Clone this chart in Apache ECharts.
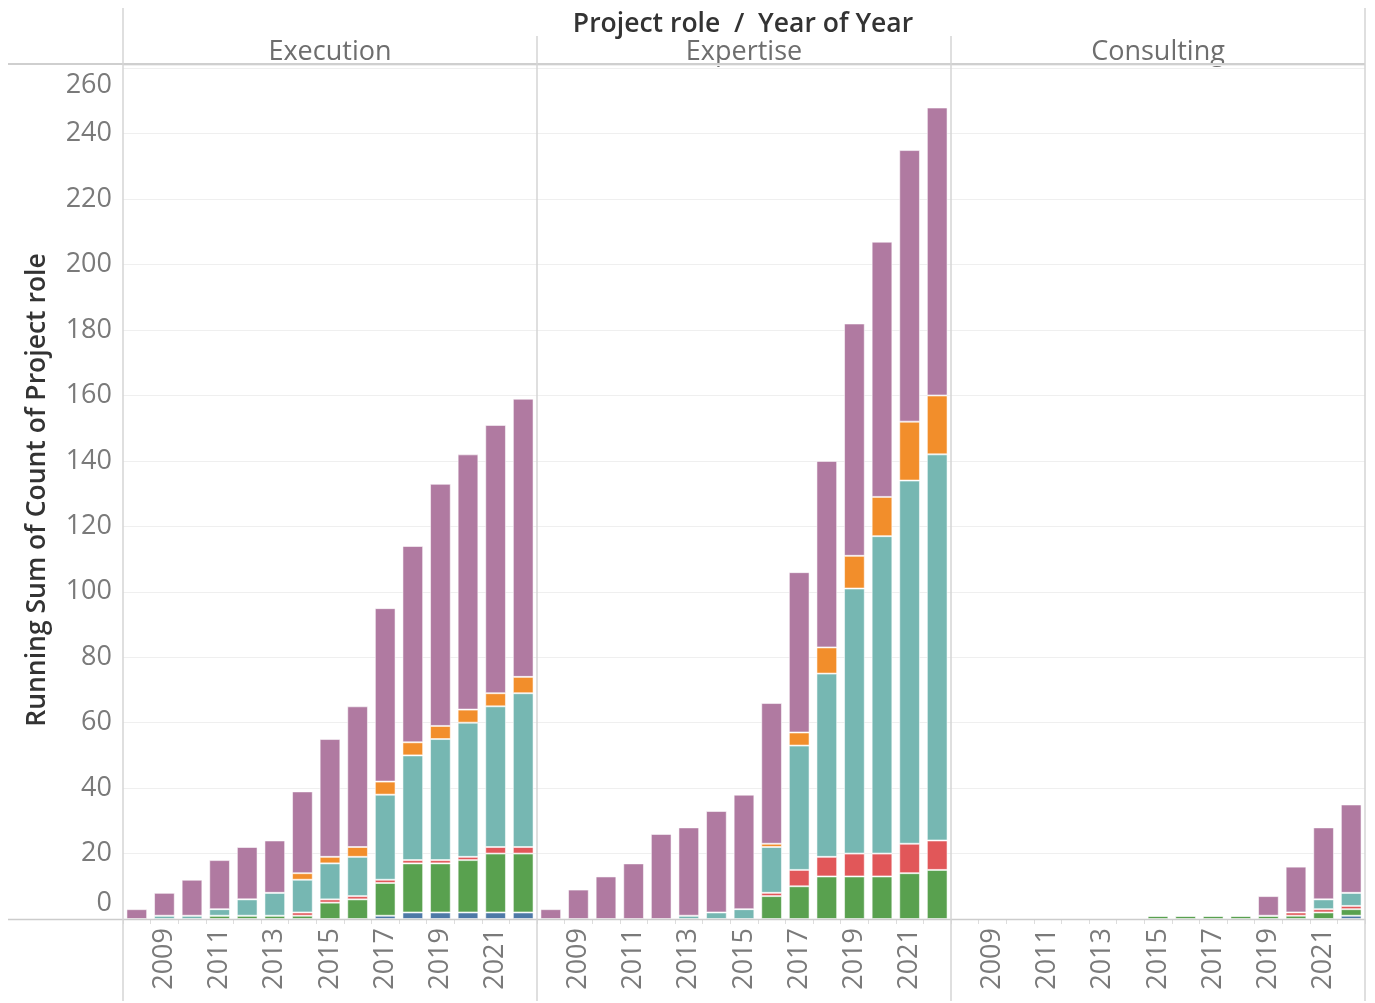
<!DOCTYPE html>
<html>
<head>
<meta charset="utf-8">
<script src="https://cdn.jsdelivr.net/npm/echarts@6/dist/echarts.min.js"></script>
<style>
html,body{margin:0;padding:0;background:#fff;}
#chart{width:1375px;height:1003px;}
</style>
</head>
<body>
<div id="chart"></div>
<script>
// ---- Data (running sums) ----
const years = ['2008','2009','2010','2011','2012','2013','2014','2015','2016','2017','2018','2019','2020','2021','2022'];
const panels = ['Execution', 'Expertise', 'Consulting'];
const yTicks = [0, 20, 40, 60, 80, 100, 120, 140, 160, 180, 200, 220, 240, 260];

// Execution
const execBlue   = [0,0,0,0,0,0,0,0,0,1,2,2,2,2,2];
const execGreen  = [0,0,0,1,1,1,1,5,6,10,15,15,16,18,18];
const execRed    = [0,0,0,0,0,0,1,1,1,1,1,1,1,2,2];
const execTeal   = [0,1,1,2,5,7,10,11,12,26,32,37,41,43,47];
const execOrange = [0,0,0,0,0,0,2,2,3,4,4,4,4,4,5];
const execPurple = [3,7,11,15,16,16,25,36,43,53,60,74,78,82,85];

// Expertise
const expBlue   = [0,0,0,0,0,0,0,0,0,0,0,0,0,0,0];
const expGreen  = [0,0,0,0,0,0,0,0,7,10,13,13,13,14,15];
const expRed    = [0,0,0,0,0,0,0,0,1,5,6,7,7,9,9];
const expTeal   = [0,0,0,0,0,1,2,3,14,38,56,81,97,111,118];
const expOrange = [0,0,0,0,0,0,0,0,1,4,8,10,12,18,18];
const expPurple = [3,9,13,17,26,27,31,35,43,49,57,71,78,83,88];

// Consulting
const conBlue   = [0,0,0,0,0,0,0,0,0,0,0,0,0,0,1];
const conGreen  = [0,0,0,0,0,0,0,1,1,1,1,1,1,2,2];
const conRed    = [0,0,0,0,0,0,0,0,0,0,0,0,1,1,1];
const conTeal   = [0,0,0,0,0,0,0,0,0,0,0,0,0,3,4];
const conOrange = [0,0,0,0,0,0,0,0,0,0,0,0,0,0,0];
const conPurple = [0,0,0,0,0,0,0,0,0,0,0,6,14,22,27];

// ---- Build options ----
const segNames = ['Blue', 'Green', 'Red', 'Teal', 'Orange', 'Purple'];
const segColors = ['#4e79a7', '#59a14f', '#e15759', '#76b7b2', '#f28e2b', '#b07aa1'];
const panelSeries = [
  [execBlue, execGreen, execRed, execTeal, execOrange, execPurple],
  [expBlue, expGreen, expRed, expTeal, expOrange, expPurple],
  [conBlue, conGreen, conRed, conTeal, conOrange, conPurple]
];

const FONT = '"Open Sans", "Noto Sans", sans-serif';
const PLOT_LEFT = 123, PANEL_W = 414, PLOT_TOP = 65, PLOT_H = 854;
const Y_MAX = 261;
const TICK_FS = 27;

const grids = [], xAxes = [], yAxes = [], series = [];
panels.forEach((p, i) => {
  grids.push({ left: PLOT_LEFT + PANEL_W * i, top: PLOT_TOP, width: PANEL_W, height: PLOT_H, containLabel: false });
  xAxes.push({
    type: 'category', gridIndex: i, data: years,
    axisLine: { show: false },
    axisTick: { show: true, length: 5, interval: 0, lineStyle: { color: '#dddddd' } },
    axisLabel: {
      rotate: 90, interval: (idx) => idx % 2 === 1,
      color: '#7a7a7a', fontSize: TICK_FS, fontFamily: FONT, margin: 9
    }
  });
  yAxes.push({
    type: 'value', gridIndex: i, min: 0, max: Y_MAX, interval: 20,
    axisLine: { show: false }, axisTick: { show: false },
    splitLine: { show: true, lineStyle: { color: '#efefef', width: 1 } },
    axisLabel: {
      show: i === 0, margin: 11, color: '#7a7a7a', fontSize: TICK_FS, fontFamily: FONT,
      formatter: (v) => {
        if (yTicks.indexOf(v) < 0) return '';
        if (v === 0) return '{b|0}';
        if (v === yTicks[yTicks.length - 1]) return '{t|' + v + '}';
        return '{n|' + v + '}';
      },
      rich: {
        n: { fontSize: TICK_FS, color: '#7a7a7a', fontFamily: FONT },
        t: { fontSize: TICK_FS, color: '#7a7a7a', fontFamily: FONT, padding: [34, 0, 0, 0] },
        b: { fontSize: TICK_FS, color: '#7a7a7a', fontFamily: FONT, padding: [0, 0, 32, 0] }
      }
    }
  });
  panelSeries[i].forEach((arr, s) => {
    series.push({
      type: 'bar', name: segNames[s], xAxisIndex: i, yAxisIndex: i,
      stack: 'panel' + i, data: arr, barCategoryGap: '25%',
      itemStyle: { color: segColors[s], borderColor: 'rgba(255,255,255,0.55)', borderWidth: 1 },
      emphasis: { disabled: true }
    });
  });
});

const lineColor = '#d4d4d4';
const graphic = [
  // header rule & baseline
  { type: 'line', shape: { x1: 8, y1: 64, x2: 1365, y2: 64 }, style: { stroke: '#cfcfcf', lineWidth: 2 }, z: 10 },
  { type: 'line', shape: { x1: 8, y1: 919.5, x2: 1365, y2: 919.5 }, style: { stroke: '#cccccc', lineWidth: 1.5 }, z: 10 },
  // vertical panel rules
  { type: 'line', shape: { x1: 123, y1: 8, x2: 123, y2: 1001 }, style: { stroke: lineColor, lineWidth: 1.5 }, z: 10 },
  { type: 'line', shape: { x1: 537, y1: 36, x2: 537, y2: 1001 }, style: { stroke: lineColor, lineWidth: 1.5 }, z: 10 },
  { type: 'line', shape: { x1: 951, y1: 36, x2: 951, y2: 1001 }, style: { stroke: lineColor, lineWidth: 1.5 }, z: 10 },
  { type: 'line', shape: { x1: 1365, y1: 8, x2: 1365, y2: 1001 }, style: { stroke: lineColor, lineWidth: 1.5 }, z: 10 },
  // title
  { type: 'text', x: 743, y: 24, style: { text: 'Project role  /  Year of Year', fill: '#333333', font: '600 26.5px ' + FONT, textAlign: 'center', textVerticalAlign: 'middle' } },
  // y axis title
  { type: 'text', x: 37, y: 490, rotation: Math.PI / 2, style: { text: 'Running Sum of Count of Project role', fill: '#333333', font: '600 26.5px ' + FONT, textAlign: 'center', textVerticalAlign: 'middle' } }
];
panels.forEach((p, i) => {
  graphic.push({ type: 'text', x: PLOT_LEFT + PANEL_W * i + PANEL_W / 2, y: 52, style: { text: p, fill: '#6e6e6e', font: '27px ' + FONT, textAlign: 'center', textVerticalAlign: 'middle' } });
});

const chart = echarts.init(document.getElementById('chart'));
chart.setOption({
  animation: false,
  backgroundColor: '#ffffff',
  grid: grids, xAxis: xAxes, yAxis: yAxes, series: series,
  graphic: graphic
});
</script>
</body>
</html>
